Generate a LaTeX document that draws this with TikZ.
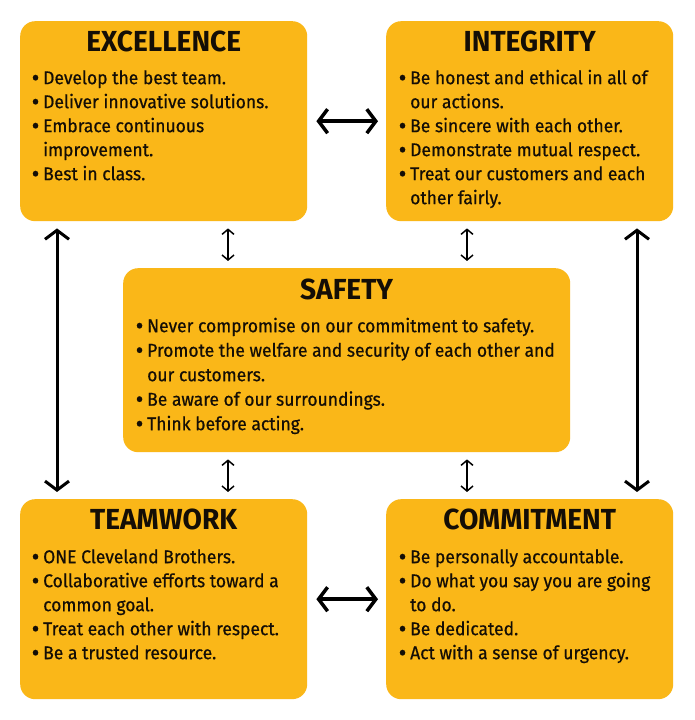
\documentclass[tikz,border=0pt]{standalone}
\usepackage{fontspec}
\usetikzlibrary{arrows.meta,calc}
\newfontfamily\titlefont[FakeStretch=0.97]{Fira Sans}
\newfontfamily\bodyfont[FakeStretch=0.945,FakeBold=0.6]{Fira Sans}
\definecolor{valyellow}{RGB}{250,183,24}
\definecolor{valtext}{RGB}{20,14,6}
\newcommand\bitem[1]{\makebox[10pt][l]{\hspace*{-1.5pt}\raisebox{-2pt}{\fontsize{25}{24}\selectfont •}}#1}
\newcommand\bcont[1]{\hspace*{10pt}#1}
\tikzset{
  valbox/.style={fill=valyellow, rounded corners=15pt, inner sep=0pt, minimum width=287pt, minimum height=200pt, anchor=north west},
  valtitle/.style={font=\titlefont\bfseries\fontsize{29}{30}\selectfont, text=valtext, anchor=base, inner sep=0pt},
  valbody/.style={font=\bodyfont\fontsize{18.5}{24}\selectfont, text=valtext, align=left, anchor=north west, inner sep=0pt},
  bigarrow/.style={line width=3.5pt, {Straight Barb[length=9pt,width=24pt]}-{Straight Barb[length=9pt,width=24pt]}},
  longarrow/.style={line width=3pt, {Straight Barb[length=9pt,width=24pt]}-{Straight Barb[length=9pt,width=24pt]}, shorten <=7pt, shorten >=7pt},
  smallarrow/.style={line width=1.5pt, {Straight Barb[length=5pt,width=12pt]}-{Straight Barb[length=5pt,width=12pt]}, shorten <=7pt, shorten >=7pt}
}
\begin{document}
\begin{tikzpicture}[x=1pt,y=1pt]
\useasboundingbox[fill=white] (0,0) rectangle (694,720);
% boxes
\node[valbox] (exc) at (20,699) {};
\node[valbox] (int) at (386,699) {};
\node[valbox, minimum width=447pt, minimum height=184pt] (saf) at (123,452) {};
\node[valbox] (team) at (20,221) {};
\node[valbox] (com) at (386,221) {};
% titles
\node[valtitle] (excT) at ($(exc.north)+(0,-31)$) {EXCELLENCE};
\node[valtitle] (intT) at ($(int.north)+(0,-31)$) {INTEGRITY};
\node[valtitle] (safT) at ($(saf.north)+(0,-32)$) {SAFETY};
\node[valtitle] (teamT) at ($(team.north)+(0,-31)$) {TEAMWORK};
\node[valtitle] (comT) at ($(com.north)+(0,-31)$) {COMMITMENT};
% bodies (first baseline = top + 63; strut 16pt)
\node[valbody] (excB) at (33,652) {\bitem{\rule{0pt}{16pt}Develop the best team.}\\
\bitem{Deliver innovative solutions.}\\
\bitem{Embrace continuous}\\
\bcont{improvement.}\\
\bitem{Best in class.}};
\node[valbody] (intB) at (400,652) {\bitem{\rule{0pt}{16pt}Be honest and ethical in all of}\\
\bcont{our actions.}\\
\bitem{Be sincere with each other.}\\
\bitem{Demonstrate mutual respect.}\\
\bitem{Treat our customers and each}\\
\bcont{other fairly.}};
\node[valbody, font=\bodyfont\fontsize{18.5}{24.5}\selectfont] (safB) at (137,404) {\bitem{\rule{0pt}{16pt}Never compromise on our commitment to safety.}\\
\bitem{Promote the welfare and security of each other and}\\
\bcont{our customers.}\\
\bitem{Be aware of our surroundings.}\\
\bitem{Think before acting.}};
\node[valbody] (teamB) at (33,173) {\bitem{\rule{0pt}{16pt}ONE Cleveland Brothers.}\\
\bitem{Collaborative efforts toward a}\\
\bcont{common goal.}\\
\bitem{Treat each other with respect.}\\
\bitem{Be a trusted resource.}};
\node[valbody] (comB) at (400,173) {\bitem{\rule{0pt}{16pt}Be personally accountable.}\\
\bitem{Do what you say you are going}\\
\bcont{to do.}\\
\bitem{Be dedicated.}\\
\bitem{Act with a sense of urgency.}};
% arrows
\draw[bigarrow, shorten <=9pt, shorten >=8pt] (exc.east) -- (int.west);
\draw[bigarrow, shorten <=9pt, shorten >=8pt] (team.east) -- (com.west);
\draw[longarrow] ([xshift=37pt]exc.south west) -- ([xshift=37pt]team.north west);
\draw[longarrow] ([xshift=251pt]int.south west) -- ([xshift=251pt]com.north west);
\draw[smallarrow] ([xshift=208pt]exc.south west) -- ([xshift=105pt]saf.north west);
\draw[smallarrow] ([xshift=81pt]int.south west) -- ([xshift=344pt]saf.north west);
\draw[smallarrow] ([xshift=105pt]saf.south west) -- ([xshift=208pt]team.north west);
\draw[smallarrow] ([xshift=344pt]saf.south west) -- ([xshift=81pt]com.north west);
\end{tikzpicture}
\end{document}
